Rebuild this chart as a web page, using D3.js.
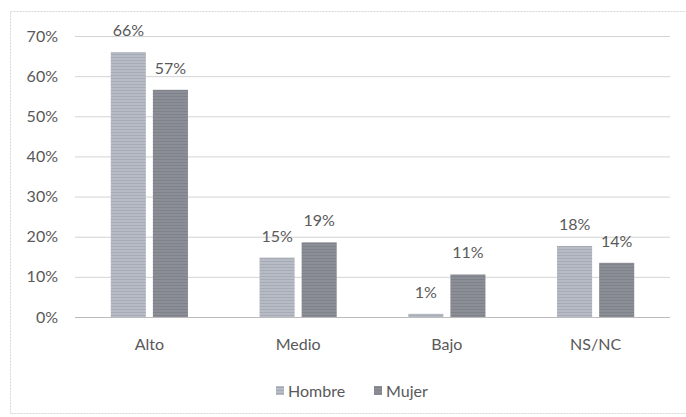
<!DOCTYPE html>
<html><head><meta charset="utf-8">
<script src="https://cdn.jsdelivr.net/npm/d3@7"></script>
<style>body{margin:0;background:#fff}svg{display:block}</style>
</head><body>
<svg id="c" width="686" height="417"></svg>
<script>
const categories = ["Alto", "Medio", "Bajo", "NS/NC"];
const seriesNames = ["Hombre", "Mujer"];
const hombre = [0.66, 0.148, 0.008, 0.177];
const mujer = [0.566, 0.186, 0.106, 0.135];
const yTicks = [0, 0.1, 0.2, 0.3, 0.4, 0.5, 0.6, 0.7];
const colors = ["#b7bbc5", "#8b8e96"];

const svg = d3.select("#c");
const W = 686, H = 417;
const m = {left: 75, right: 16, top: 36, bottom: 100};
const font = "Lato, 'Open Sans', sans-serif";
const textColor = "#595959";

// subtle scan-like texture patterns
const defs = svg.append("defs");
colors.forEach((c, j) => {
  const p = defs.append("pattern").attr("id", "pat" + j).attr("patternUnits", "userSpaceOnUse")
    .attr("width", 3).attr("height", 3);
  p.append("rect").attr("width", 3).attr("height", 3).attr("fill", c);
  p.append("rect").attr("width", 3).attr("height", 1).attr("fill", d3.color(c).darker(0.25));
});

// chart border
svg.append("rect").attr("x", 10.5).attr("y", 11.5).attr("width", 690).attr("height", 402)
  .attr("fill", "none").attr("stroke", "#d6d6d6").attr("stroke-dasharray", "2,1");

const x0 = d3.scaleBand().domain(categories).range([m.left, W - m.right]).paddingInner(0).paddingOuter(0);
const x1 = d3.scaleBand().domain(seriesNames).range([0, x0.bandwidth()]).paddingInner(0.167).paddingOuter(0.85);
const y = d3.scaleLinear().domain([0, 0.7]).range([317, 36]);

// gridlines
const yAxis = d3.axisLeft(y).tickValues(yTicks).tickFormat(d3.format(".0%")).tickSize(-(W - m.right - m.left)).tickPadding(17);
const gy = svg.append("g").attr("transform", `translate(${m.left},0)`).call(yAxis);
gy.select(".domain").remove();
gy.selectAll(".tick line").attr("stroke", d => d === 0 ? "#bcbcbc" : "#d4d4d4").attr("stroke-width", 1);
gy.selectAll(".tick text").attr("fill", textColor).style("font-family", font).style("font-size", "16px");

// bars
const data = categories.map((c, i) => ({cat: c, vals: [hombre[i], mujer[i]]}));
const g = svg.append("g");
data.forEach(d => {
  d.vals.forEach((v, j) => {
    const bx = x0(d.cat) + x1(seriesNames[j]);
    g.append("rect").attr("x", bx).attr("y", y(v)).attr("width", x1.bandwidth())
      .attr("height", y(0) - y(v)).attr("fill", `url(#pat${j})`);
    g.append("text").attr("x", bx + x1.bandwidth() / 2).attr("y", y(v) - 16)
      .attr("text-anchor", "middle").attr("fill", textColor)
      .style("font-family", font).style("font-size", "16px")
      .text(Math.round(v * 100) + "%");
  });
});

// x axis labels
const xAxis = d3.axisBottom(x0).tickSize(0).tickPadding(22);
const gx = svg.append("g").attr("transform", `translate(0,${y(0)})`).call(xAxis);
gx.select(".domain").remove();
gx.selectAll(".tick text").attr("fill", textColor).style("font-family", font).style("font-size", "16px");

// legend
const leg = svg.append("g");
const legItems = [{name: "Hombre", x: 276}, {name: "Mujer", x: 374}];
legItems.forEach((it, j) => {
  leg.append("rect").attr("x", it.x).attr("y", 386).attr("width", 8).attr("height", 9).attr("fill", `url(#pat${j})`);
  leg.append("text").attr("x", it.x + 12).attr("y", 396.5).attr("fill", textColor)
    .style("font-family", font).style("font-size", "16px").text(it.name);
});
</script>
</body></html>
